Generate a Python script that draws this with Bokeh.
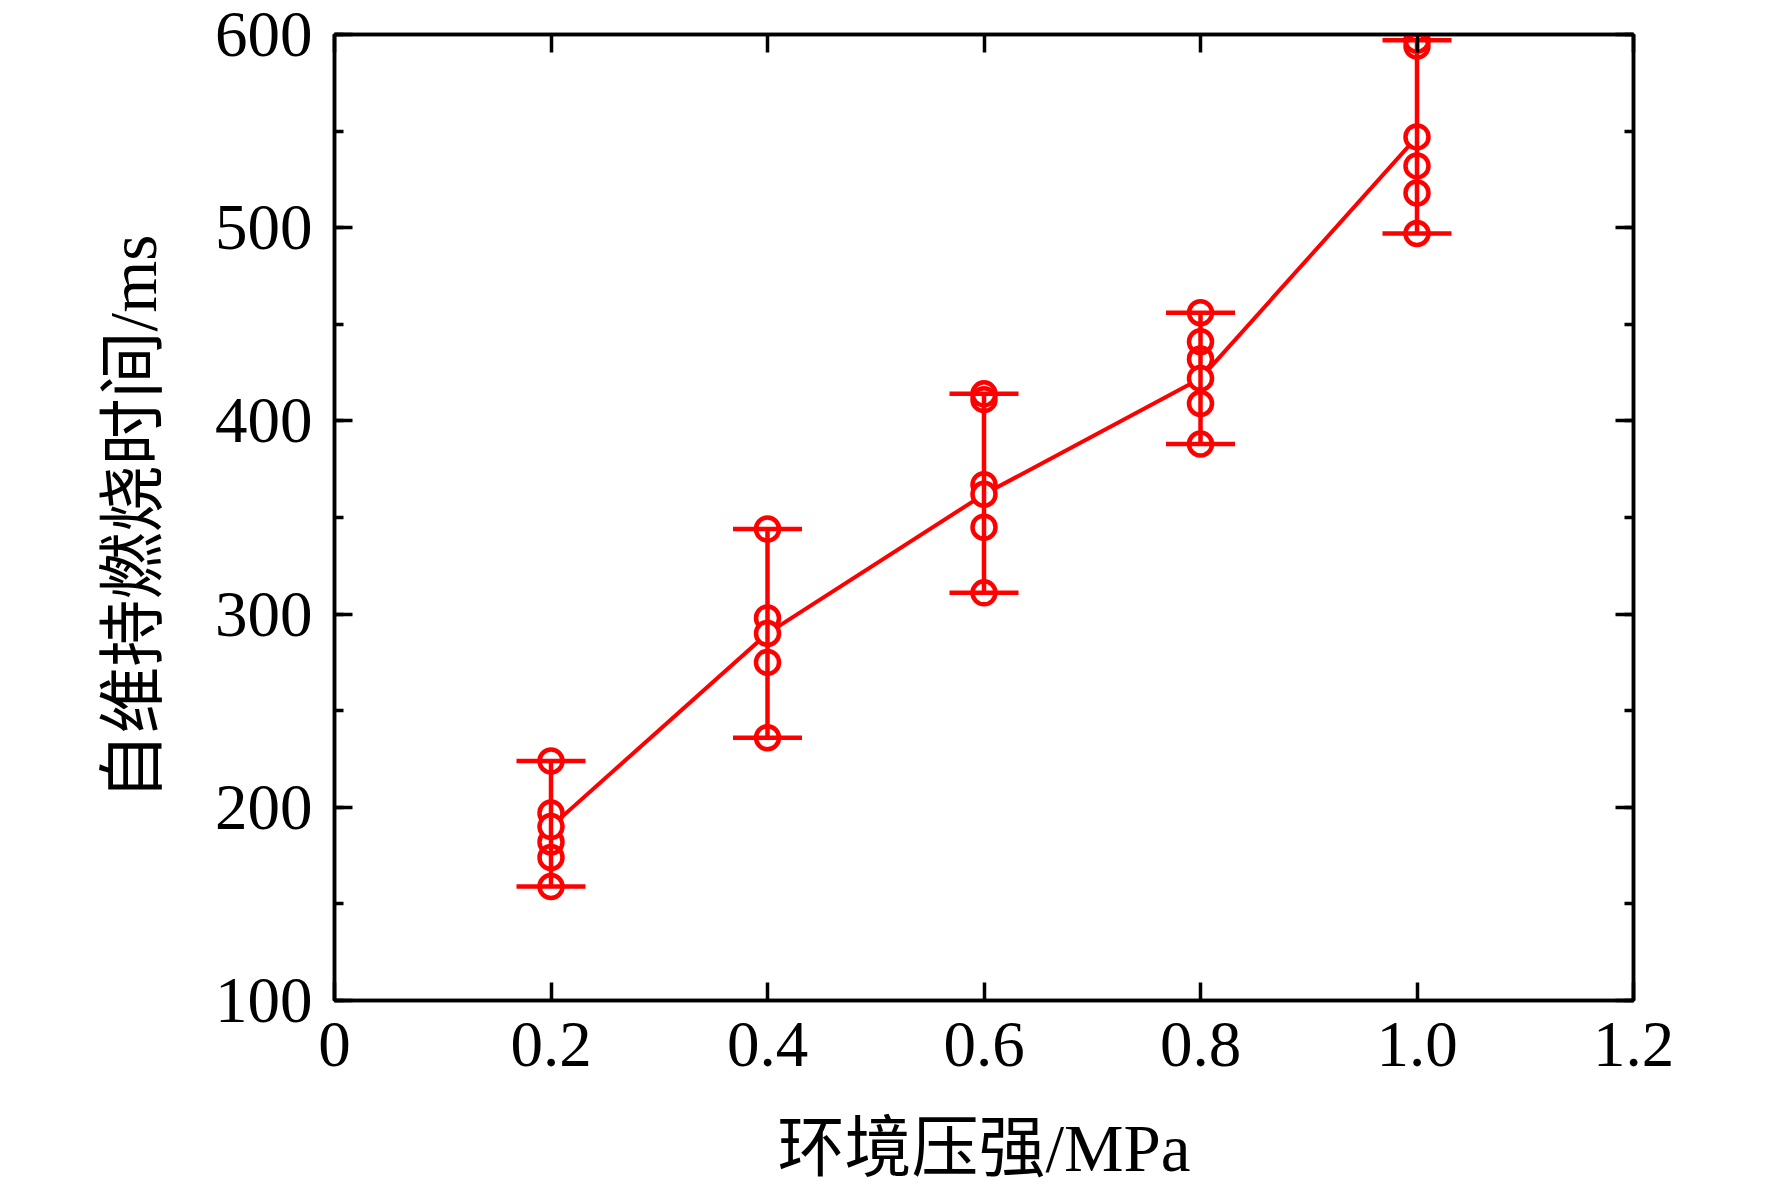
import math
from bokeh.plotting import figure
from bokeh.models import (LinearAxis, FixedTicker, SingleIntervalTicker, Whisker,
                          TeeHead, ColumnDataSource, Range1d)
from bokeh.embed import file_html
from bokeh.resources import INLINE

# ---------------- data ----------------
pressure = [0.2, 0.4, 0.6, 0.8, 1.0]
samples_02 = [224, 197, 182, 174, 159]
samples_04 = [344, 298, 275, 236]
samples_06 = [414, 411, 367, 345, 311]
samples_08 = [456, 441, 432, 409, 388]
samples_10 = [597, 594, 532, 518, 497]
mean_time = [190, 290, 362, 422, 547]

x_ticks = [0, 0.2, 0.4, 0.6, 0.8, 1.0, 1.2]
x_tick_labels = ["0", "0.2", "0.4", "0.6", "0.8", "1.0", "1.2"]
x_label = "环境压强/MPa"
y_label = "自维持燃烧时间/ms"

groups = [samples_02, samples_04, samples_06, samples_08, samples_10]

RED = "#FF0000"
FONT = "'Liberation Serif', 'Noto Sans CJK SC'"
TICK_SIZE = "65px"
LABEL_SIZE = "67px"
X_MIN, X_MAX = 0, 1.2
Y_MIN, Y_MAX = 100, 600

p = figure(frame_width=1299, frame_height=966,
           x_range=Range1d(X_MIN, X_MAX), y_range=Range1d(Y_MIN, Y_MAX),
           output_backend="svg", toolbar_location=None,
           min_border_left=334, min_border_right=110,
           min_border_top=34, min_border_bottom=150)
p.xgrid.visible = False
p.ygrid.visible = False
p.outline_line_color = "black"
p.outline_line_width = 3.5
p.background_fill_color = "white"
p.border_fill_color = "white"


def style_axis(ax, show_labels):
    ax.axis_line_color = "black"
    ax.axis_line_width = 3.5
    ax.major_tick_line_color = "black"
    ax.major_tick_line_width = 3.5
    ax.minor_tick_line_color = "black"
    ax.minor_tick_line_width = 3.5
    ax.major_tick_in = 18
    ax.major_tick_out = 0
    ax.minor_tick_in = 9
    ax.minor_tick_out = 0
    if show_labels:
        ax.major_label_text_font = FONT
        ax.major_label_text_font_size = TICK_SIZE
        ax.major_label_text_color = "black"
        ax.axis_label_text_font = FONT
        ax.axis_label_text_font_size = LABEL_SIZE
        ax.axis_label_text_font_style = "normal"
        ax.axis_label_text_color = "black"
    else:
        ax.major_label_text_font_size = "0px"
        ax.major_label_text_color = None


xticker = FixedTicker(ticks=x_ticks, minor_ticks=[])
overrides = {t: s for t, s in zip(x_ticks, x_tick_labels)}
yticker = SingleIntervalTicker(interval=100, num_minor_ticks=2)

xb = p.xaxis[0]
xb.ticker = xticker
xb.major_label_overrides = overrides
style_axis(xb, True)
xb.major_label_standoff = 22
xb.axis_label = x_label
xb.axis_label_standoff = 42

yl = p.yaxis[0]
yl.ticker = yticker
style_axis(yl, True)
yl.major_label_standoff = 22
yl.axis_label = y_label
yl.axis_label_standoff = 42

xa = LinearAxis(ticker=FixedTicker(ticks=x_ticks, minor_ticks=[]))
style_axis(xa, False)
p.add_layout(xa, "above")

yr = LinearAxis(ticker=SingleIntervalTicker(interval=100, num_minor_ticks=2))
style_axis(yr, False)
p.add_layout(yr, "right")

# ---------------- marks ----------------
p.line(pressure, mean_time, line_color=RED, line_width=4)

wsrc = ColumnDataSource(data=dict(base=pressure,
                                  lower=[min(g) for g in groups],
                                  upper=[max(g) for g in groups]))
whisker = Whisker(base="base", lower="lower", upper="upper", source=wsrc,
                  line_color=RED, line_width=4.5, level="glyph",
                  upper_head=TeeHead(size=69, line_color=RED, line_width=4.5),
                  lower_head=TeeHead(size=69, line_color=RED, line_width=4.5))
p.add_layout(whisker)

sx = [x for x, g in zip(pressure, groups) for _ in g]
sy = [v for g in groups for v in g]
p.scatter(sx, sy, marker="circle", size=23, line_color=RED, line_width=4.5,
          fill_color=None)
p.scatter(pressure, mean_time, marker="circle", size=23, line_color=RED,
          line_width=4.5, fill_color="white")

open("out.html", "w").write(file_html(p, INLINE))
